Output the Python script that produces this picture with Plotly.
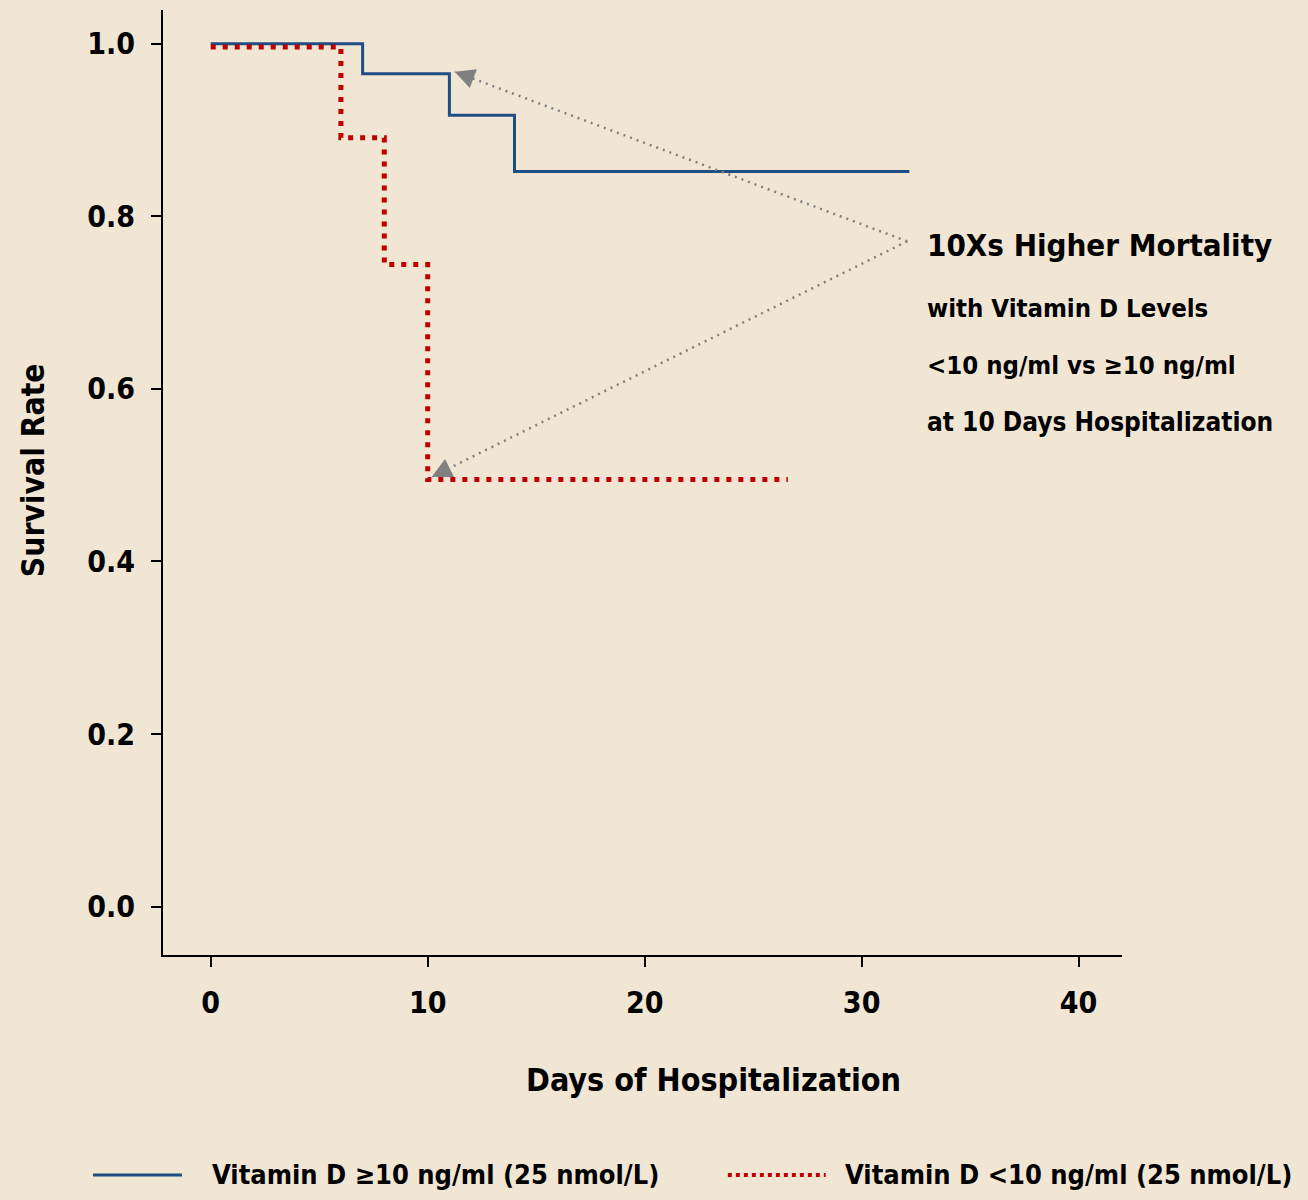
import plotly.graph_objects as go

# Data
days_high = [0, 7, 11, 14, 32.2]
surv_high = [1.0, 0.965, 0.917, 0.852, 0.852]
days_low = [0, 6, 8, 10, 26.6]
surv_low = [0.996, 0.891, 0.744, 0.495, 0.495]

x_ticks = [0, 10, 20, 30, 40]
y_ticks = [0.0, 0.2, 0.4, 0.6, 0.8, 1.0]
y_tick_text = ["0.0", "0.2", "0.4", "0.6", "0.8", "1.0"]

label_high = "Vitamin D ≥10 ng/ml (25 nmol/L)"
label_low = "Vitamin D <10 ng/ml (25 nmol/L)"
note_title = "10Xs Higher Mortality"
note_lines = ["with Vitamin D Levels", "<10 ng/ml vs ≥10 ng/ml", "at 10 Days Hospitalization"]

# arrow geometry (data coords)
arrow_tail = (32.1, 0.771)
arrow_heads = [(11.24, 0.9675), (10.18, 0.498)]

BG = "#F1E6D3"
BLUE = "#1F4E85"
RED = "#C00000"
GRAY = "#808080"
FONT = "DejaVu Sans Condensed, Liberation Sans Narrow, DejaVu Sans, sans-serif"


def f(size):
    return dict(family=FONT, size=size, color="black", weight="bold")


fig = go.Figure()
fig.add_trace(go.Scatter(x=days_high, y=surv_high, mode="lines", line_shape="hv",
                         line=dict(color=BLUE, width=3), name=label_high, showlegend=False))
fig.add_trace(go.Scatter(x=days_low, y=surv_low, mode="lines", line_shape="hv",
                         line=dict(color=RED, width=5, dash="5px,7px"), name=label_low, showlegend=False))

for hx, hy in arrow_heads:
    fig.add_shape(type="line", x0=arrow_tail[0], y0=arrow_tail[1], x1=hx, y1=hy,
                  xref="x", yref="y", line=dict(color=GRAY, width=2.5, dash="2px,5px"))
    dx = arrow_tail[0] - hx
    dy = arrow_tail[1] - hy
    fig.add_annotation(x=hx, y=hy, ax=hx + dx * 0.03, ay=hy + dy * 0.03,
                       xref="x", yref="y", axref="x", ayref="y", text="",
                       showarrow=True, arrowhead=2, arrowsize=1.6, arrowwidth=2.5,
                       arrowcolor=GRAY, standoff=0)

# annotation text
fig.add_annotation(x=0.795, y=0.7513, xref="paper", yref="paper", text=note_title,
                   showarrow=False, xanchor="left", yanchor="middle", font=f(31))
note_sizes = [25.5, 25.5, 26]
for line, yp, sz in zip(note_lines, [0.6847, 0.6243, 0.564], note_sizes):
    fig.add_annotation(x=0.795, y=yp, xref="paper", yref="paper", text=line,
                       showarrow=False, xanchor="left", yanchor="middle", font=f(sz))

# axis titles
fig.add_annotation(x=-0.1356, y=0.513, xref="paper", yref="paper", text="Survival Rate",
                   showarrow=False, textangle=-90, xanchor="center", yanchor="middle", font=f(31.5))
fig.add_annotation(x=0.574, y=-0.132, xref="paper", yref="paper", text="Days of Hospitalization",
                   showarrow=False, xanchor="center", yanchor="middle", font=f(32))

# custom legend
fig.add_shape(type="line", x0=-0.073, x1=0.0198, y0=-0.2328, y1=-0.2328, xref="paper", yref="paper",
              line=dict(color=BLUE, width=3))
fig.add_shape(type="line", x0=0.589, x1=0.691, y0=-0.2328, y1=-0.2328, xref="paper", yref="paper",
              line=dict(color=RED, width=4, dash="4px,4px"))
fig.add_annotation(x=0.049, y=-0.2328, xref="paper", yref="paper", text=label_high,
                   showarrow=False, xanchor="left", yanchor="middle", font=f(27))
fig.add_annotation(x=0.709, y=-0.2328, xref="paper", yref="paper", text=label_low,
                   showarrow=False, xanchor="left", yanchor="middle", font=f(27))

fig.update_layout(
    width=1308, height=1200,
    paper_bgcolor=BG, plot_bgcolor=BG,
    margin=dict(l=163, r=186, t=10, b=245),
    showlegend=False,
    font=f(30),
)
fig.update_xaxes(range=[-2.2, 42.0], tickvals=x_ticks, showgrid=False, zeroline=False,
                 showline=True, linecolor="black", linewidth=2,
                 ticks="outside", ticklen=10, tickwidth=2, tickcolor="black", tickfont=f(30),
                 ticklabelstandoff=10)
fig.update_yaxes(range=[-0.056, 1.039], tickvals=y_ticks, ticktext=y_tick_text, showgrid=False,
                 zeroline=False, showline=True, linecolor="black", linewidth=2,
                 ticks="outside", ticklen=10, tickwidth=2, tickcolor="black", tickfont=f(30),
                 ticklabelstandoff=10)

fig.write_html("out.html", config={"displayModeBar": False},
               post_script="document.body.style.margin='0';document.body.style.background='#F1E6D3';")
